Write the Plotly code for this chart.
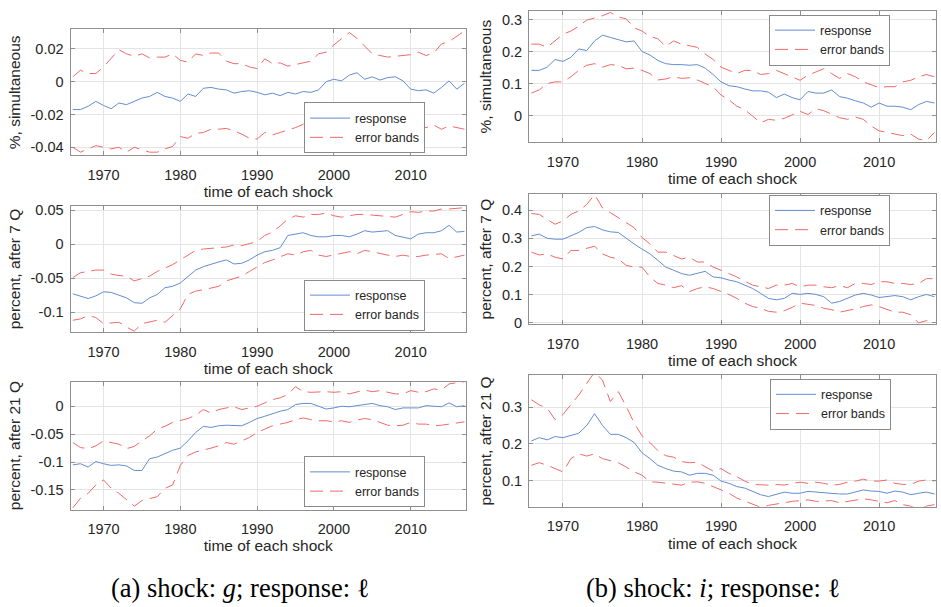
import plotly.graph_objects as go

years = list(range(1966, 2018))

xtick_vals = [1970, 1980, 1990, 2000, 2010]
xtick_text = ["1970", "1980", "1990", "2000", "2010"]

# ---- (a) shock g, response l ----
a1_resp = [-0.017, -0.017, -0.015, -0.012, -0.0145, -0.0165, -0.013, -0.014, -0.012, -0.010,
           -0.009, -0.0065, -0.009, -0.010, -0.012, -0.0075, -0.009, -0.004, -0.0035, -0.0045,
           -0.005, -0.007, -0.006, -0.0055, -0.0065, -0.008, -0.007, -0.0085, -0.0065, -0.0075,
           -0.006, -0.0065, -0.005, 0.000, 0.0015, 0.0005, 0.004, 0.0055, 0.0015, 0.003,
           0.001, 0.0025, 0.003, 0.0005, -0.0045, -0.0055, -0.005, -0.007, -0.0035, 0.0005,
           -0.0045, -0.001]
a1_up = [0.003, 0.007, 0.005, 0.005, 0.009, 0.0145, 0.0195, 0.017, 0.0155, 0.017,
         0.0145, 0.015, 0.015, 0.017, 0.013, 0.012, 0.017, 0.016, 0.0175, 0.0175,
         0.0125, 0.011, 0.011, 0.009, 0.008, 0.014, 0.011, 0.0115, 0.0095, 0.0105,
         0.0115, 0.0125, 0.017, 0.018, 0.0225, 0.026, 0.030, 0.0265, 0.022, 0.017,
         0.016, 0.015, 0.0155, 0.016, 0.0165, 0.018, 0.016, 0.0175, 0.023, 0.0245,
         0.028, 0.031]
a1_lo = [-0.040, -0.043, -0.041, -0.039, -0.040, -0.041, -0.040, -0.043, -0.040, -0.0415,
         -0.043, -0.043, -0.041, -0.0395, -0.0335, -0.0345, -0.0315, -0.031, -0.029, -0.029,
         -0.0285, -0.030, -0.032, -0.0345, -0.035, -0.031, -0.0325, -0.031, -0.0295, -0.028,
         -0.026, -0.022, -0.018, -0.014, -0.016, -0.020, -0.019, -0.016, -0.019, -0.021,
         -0.023, -0.024, -0.024, -0.025, -0.027, -0.0275, -0.028, -0.0265, -0.029, -0.027,
         -0.028, -0.029]

a2_resp = [-0.073, -0.076, -0.080, -0.076, -0.070, -0.071, -0.075, -0.079, -0.086, -0.087,
           -0.079, -0.074, -0.064, -0.062, -0.057, -0.047, -0.038, -0.033, -0.029, -0.026,
           -0.023, -0.029, -0.028, -0.023, -0.016, -0.011, -0.009, -0.005, 0.013, 0.015,
           0.017, 0.013, 0.011, 0.011, 0.013, 0.013, 0.011, 0.015, 0.020, 0.018,
           0.019, 0.020, 0.013, 0.011, 0.008, 0.015, 0.017, 0.017, 0.020, 0.028,
           0.018, 0.019]
a2_up = [-0.049, -0.042, -0.040, -0.038, -0.038, -0.044, -0.046, -0.047, -0.054, -0.050,
         -0.047, -0.040, -0.035, -0.030, -0.023, -0.016, -0.009, -0.007, -0.006, -0.005,
         -0.004, -0.001, -0.002, 0.001, 0.004, 0.013, 0.018, 0.027, 0.037, 0.042,
         0.040, 0.044, 0.044, 0.046, 0.042, 0.040, 0.042, 0.044, 0.044, 0.043,
         0.041, 0.040, 0.040, 0.044, 0.048, 0.047, 0.049, 0.049, 0.052, 0.052,
         0.053, 0.054]
a2_lo = [-0.112, -0.110, -0.105, -0.108, -0.117, -0.116, -0.115, -0.122, -0.128, -0.117,
         -0.115, -0.112, -0.115, -0.105, -0.095, -0.074, -0.069, -0.067, -0.064, -0.062,
         -0.054, -0.050, -0.047, -0.040, -0.033, -0.027, -0.023, -0.018, -0.014, -0.016,
         -0.011, -0.009, -0.016, -0.018, -0.016, -0.014, -0.011, -0.014, -0.009, -0.011,
         -0.014, -0.016, -0.018, -0.016, -0.018, -0.018, -0.016, -0.015, -0.014, -0.021,
         -0.018, -0.016]

a3_resp = [-0.105, -0.103, -0.109, -0.099, -0.103, -0.106, -0.105, -0.107, -0.115, -0.115,
           -0.094, -0.091, -0.085, -0.079, -0.075, -0.062, -0.047, -0.036, -0.038, -0.035,
           -0.034, -0.035, -0.035, -0.029, -0.022, -0.018, -0.013, -0.009, -0.006, 0.003,
           0.005, 0.005, 0.000, -0.005, -0.003, 0.000, -0.001, 0.001, 0.003, 0.005,
           0.001, -0.001, -0.006, -0.003, -0.003, -0.003, 0.001, 0.000, -0.001, 0.006,
           -0.001, 0.001]
a3_up = [-0.065, -0.074, -0.076, -0.071, -0.062, -0.065, -0.068, -0.076, -0.072, -0.062,
         -0.053, -0.041, -0.036, -0.029, -0.025, -0.022, -0.016, -0.006, -0.012, -0.006,
         -0.003, -0.001, -0.006, -0.003, 0.000, 0.006, 0.012, 0.015, 0.021, 0.035,
         0.026, 0.025, 0.026, 0.026, 0.025, 0.026, 0.022, 0.026, 0.029, 0.026,
         0.028, 0.025, 0.022, 0.022, 0.028, 0.025, 0.026, 0.031, 0.029, 0.040,
         0.042, 0.044]
a3_lo = [-0.182, -0.165, -0.156, -0.141, -0.132, -0.147, -0.156, -0.168, -0.179, -0.169,
         -0.165, -0.162, -0.147, -0.141, -0.106, -0.088, -0.082, -0.079, -0.075, -0.071,
         -0.065, -0.068, -0.062, -0.056, -0.047, -0.041, -0.035, -0.032, -0.029, -0.024,
         -0.021, -0.024, -0.026, -0.026, -0.028, -0.026, -0.029, -0.025, -0.022, -0.024,
         -0.029, -0.034, -0.035, -0.034, -0.029, -0.032, -0.032, -0.035, -0.034, -0.032,
         -0.031, -0.028]

# ---- (b) shock i, response l ----
b1_resp = [0.141, 0.141, 0.151, 0.175, 0.169, 0.182, 0.208, 0.203, 0.233, 0.251,
           0.244, 0.236, 0.230, 0.233, 0.200, 0.189, 0.172, 0.162, 0.159, 0.159,
           0.157, 0.159, 0.148, 0.128, 0.105, 0.093, 0.090, 0.083, 0.077, 0.077,
           0.073, 0.056, 0.067, 0.056, 0.049, 0.075, 0.070, 0.070, 0.080, 0.059,
           0.054, 0.046, 0.039, 0.026, 0.039, 0.029, 0.029, 0.026, 0.018, 0.034,
           0.044, 0.039]
b1_up = [0.223, 0.223, 0.213, 0.233, 0.254, 0.264, 0.279, 0.298, 0.305, 0.312,
         0.322, 0.308, 0.302, 0.274, 0.264, 0.247, 0.240, 0.216, 0.233, 0.223,
         0.218, 0.213, 0.192, 0.175, 0.151, 0.141, 0.131, 0.141, 0.141, 0.128,
         0.131, 0.141, 0.131, 0.121, 0.110, 0.126, 0.136, 0.146, 0.131, 0.116,
         0.131, 0.121, 0.105, 0.095, 0.087, 0.090, 0.090, 0.105, 0.110, 0.121,
         0.128, 0.121]
b1_lo = [0.070, 0.080, 0.100, 0.105, 0.105, 0.121, 0.141, 0.157, 0.162, 0.151,
         0.159, 0.157, 0.146, 0.148, 0.141, 0.131, 0.111, 0.114, 0.121, 0.116,
         0.118, 0.111, 0.100, 0.090, 0.064, 0.049, 0.029, 0.018, -0.002, -0.023,
         -0.012, -0.015, -0.009, 0.003, 0.013, 0.003, 0.021, 0.015, 0.003, -0.007,
         -0.012, -0.005, -0.012, -0.033, -0.048, -0.053, -0.058, -0.063, -0.058, -0.074,
         -0.079, -0.053]

b2_resp = [0.309, 0.315, 0.300, 0.297, 0.297, 0.309, 0.321, 0.338, 0.342, 0.330,
           0.323, 0.321, 0.300, 0.280, 0.262, 0.245, 0.222, 0.198, 0.187, 0.175,
           0.169, 0.175, 0.183, 0.163, 0.160, 0.152, 0.146, 0.134, 0.122, 0.105,
           0.087, 0.082, 0.087, 0.105, 0.101, 0.105, 0.101, 0.093, 0.070, 0.076,
           0.087, 0.099, 0.105, 0.099, 0.090, 0.093, 0.097, 0.093, 0.082, 0.093,
           0.101, 0.093]
b2_up = [0.388, 0.385, 0.367, 0.350, 0.362, 0.385, 0.397, 0.420, 0.455, 0.408,
         0.391, 0.373, 0.356, 0.338, 0.303, 0.280, 0.251, 0.251, 0.239, 0.227,
         0.233, 0.216, 0.216, 0.198, 0.187, 0.175, 0.163, 0.148, 0.134, 0.128,
         0.122, 0.134, 0.134, 0.140, 0.128, 0.134, 0.134, 0.128, 0.125, 0.132,
         0.125, 0.140, 0.140, 0.136, 0.146, 0.146, 0.140, 0.140, 0.136, 0.140,
         0.157, 0.157]
b2_lo = [0.251, 0.241, 0.245, 0.233, 0.227, 0.257, 0.257, 0.265, 0.272, 0.245,
         0.233, 0.227, 0.204, 0.198, 0.198, 0.163, 0.140, 0.134, 0.125, 0.132,
         0.111, 0.122, 0.128, 0.122, 0.111, 0.101, 0.087, 0.070, 0.058, 0.052,
         0.041, 0.038, 0.043, 0.055, 0.070, 0.066, 0.062, 0.052, 0.047, 0.038,
         0.043, 0.050, 0.058, 0.064, 0.058, 0.047, 0.038, 0.038, 0.029, 0.000,
         0.008, 0.006]

b3_resp = [0.208, 0.217, 0.211, 0.220, 0.217, 0.224, 0.229, 0.250, 0.282, 0.250,
           0.226, 0.226, 0.217, 0.204, 0.176, 0.160, 0.142, 0.133, 0.126, 0.124,
           0.115, 0.120, 0.120, 0.115, 0.099, 0.093, 0.084, 0.080, 0.071, 0.062,
           0.057, 0.062, 0.069, 0.066, 0.066, 0.071, 0.069, 0.069, 0.066, 0.064,
           0.064, 0.069, 0.075, 0.072, 0.071, 0.066, 0.072, 0.069, 0.062, 0.066,
           0.069, 0.064]
b3_up = [0.320, 0.306, 0.297, 0.266, 0.280, 0.306, 0.333, 0.364, 0.395, 0.373,
         0.315, 0.342, 0.302, 0.257, 0.222, 0.204, 0.182, 0.168, 0.164, 0.152,
         0.149, 0.150, 0.137, 0.126, 0.133, 0.120, 0.111, 0.099, 0.090, 0.088,
         0.088, 0.090, 0.088, 0.093, 0.096, 0.093, 0.096, 0.093, 0.088, 0.090,
         0.096, 0.099, 0.104, 0.099, 0.099, 0.102, 0.093, 0.090, 0.090, 0.099,
         0.102, 0.099]
b3_lo = [0.142, 0.149, 0.142, 0.133, 0.124, 0.160, 0.173, 0.167, 0.173, 0.160,
         0.155, 0.149, 0.137, 0.124, 0.115, 0.097, 0.096, 0.093, 0.090, 0.088,
         0.096, 0.097, 0.093, 0.084, 0.075, 0.066, 0.053, 0.044, 0.035, 0.028,
         0.033, 0.037, 0.040, 0.044, 0.046, 0.048, 0.044, 0.046, 0.046, 0.040,
         0.044, 0.048, 0.051, 0.048, 0.044, 0.040, 0.046, 0.035, 0.031, 0.022,
         0.031, 0.035]

y_titles = ["%, simultaneous", "percent, after 7 Q", "percent, after 21 Q"]
x_title = "time of each shock"
legend_names = ["response", "error bands"]
captions = ["(a) shock: <i>g</i>; response: \u2113", "(b) shock: <i>i</i>; response: \u2113"]

ytick_a1 = ([-0.04, -0.02, 0, 0.02], ["-0.04", "-0.02", "0", "0.02"])
ytick_a2 = ([-0.1, -0.05, 0, 0.05], ["-0.1", "-0.05", "0", "0.05"])
ytick_a3 = ([-0.15, -0.1, -0.05, 0], ["-0.15", "-0.1", "-0.05", "0"])
ytick_b1 = ([0, 0.1, 0.2, 0.3], ["0", "0.1", "0.2", "0.3"])
ytick_b2 = ([0, 0.1, 0.2, 0.3, 0.4], ["0", "0.1", "0.2", "0.3", "0.4"])
ytick_b3 = ([0.1, 0.2, 0.3], ["0.1", "0.2", "0.3"])

# ---- layout geometry (pixels in a 941x607 canvas) ----
W, H = 941, 607
def fx(p): return p / W
def fy(p): return 1 - p / H

panels = [
    # resp, up, lo, ytitle, yrange, yticks, x-px, y-px, legend (x px, y px, anchor)
    (a1_resp, a1_up, a1_lo, y_titles[0], [-0.045, 0.032], ytick_a1, (70.5, 466), (26.7, 155), (304, 153, "bottom")),
    (b1_resp, b1_up, b1_lo, y_titles[0], [-0.084, 0.327], ytick_b1, (529, 936), (8, 141.7), (769, 11.7, "top")),
    (a2_resp, a2_up, a2_lo, y_titles[1], [-0.13, 0.057], ytick_a2, (70.5, 466), (206, 335), (304, 333, "bottom")),
    (b2_resp, b2_up, b2_lo, y_titles[1], [-0.005, 0.458], ytick_b2, (529, 936), (194, 326.7), (769, 195, "top")),
    (a3_resp, a3_up, a3_lo, y_titles[2], [-0.185, 0.044], ytick_a3, (70.5, 466), (385, 515), (304, 512.7, "bottom")),
    (b3_resp, b3_up, b3_lo, y_titles[2], [0.029, 0.387], ytick_b3, (529, 936), (378.3, 512.3), (770, 382, "top")),
]

BLUE = "rgb(100,140,208)"
RED = "rgb(240,105,105)"
AXC = "#8f8f8f"
TXT = "#262626"
FONT = "Liberation Sans, Arial, Helvetica, sans-serif"

fig = go.Figure()
layout = dict(
    width=W, height=H,
    margin=dict(l=0, r=0, t=0, b=0),
    paper_bgcolor="white", plot_bgcolor="white",
    font=dict(family=FONT, color=TXT, size=14),
    showlegend=True,
)

for i, (resp, up, lo, ytitle, yr, yt, xpx, ypx, lpx) in enumerate(panels):
    n = i + 1
    xa = "x" if n == 1 else f"x{n}"
    ya = "y" if n == 1 else f"y{n}"
    lg = "legend" if n == 1 else f"legend{n}"
    fig.add_trace(go.Scatter(x=years, y=resp, mode="lines", name=legend_names[0],
                             line=dict(color=BLUE, width=1), xaxis=xa, yaxis=ya, legend=lg))
    fig.add_trace(go.Scatter(x=years, y=up, mode="lines", name=legend_names[1],
                             line=dict(color=RED, width=1, dash="13px,7px"),
                             xaxis=xa, yaxis=ya, legend=lg))
    fig.add_trace(go.Scatter(x=years, y=lo, mode="lines", name=legend_names[1], showlegend=False,
                             line=dict(color=RED, width=1, dash="13px,7px"),
                             xaxis=xa, yaxis=ya, legend=lg))
    axcommon = dict(showline=True, linecolor=AXC, linewidth=1, mirror="ticks",
                    ticks="inside", ticklen=4, tickcolor=AXC, showgrid=True,
                    gridcolor="#e4e4e4", gridwidth=1, zeroline=False,
                    tickfont=dict(size=14.5, color=TXT, family=FONT))
    xkey = "xaxis" if n == 1 else f"xaxis{n}"
    ykey = "yaxis" if n == 1 else f"yaxis{n}"
    layout[xkey] = dict(axcommon, domain=[fx(xpx[0]), fx(xpx[1])], range=[1965.7, 2017.2],
                        anchor=ya, tickvals=xtick_vals, ticktext=xtick_text,
                        ticklabelstandoff=6,
                        title=dict(text=x_title, font=dict(size=15.5, color=TXT, family=FONT), standoff=4))
    layout[ykey] = dict(axcommon, domain=[fy(ypx[1]), fy(ypx[0])], range=yr,
                        anchor=xa, tickvals=yt[0], ticktext=yt[1],
                        ticklabelstandoff=3,
                        title=dict(text=ytitle, font=dict(size=15.5, color=TXT, family=FONT), standoff=6))
    layout[lg] = dict(x=fx(lpx[0]), y=fy(lpx[1]), xanchor="left", yanchor=lpx[2],
                      bgcolor="white", bordercolor="#8a8a8a", borderwidth=1,
                      font=dict(size=12.5, color=TXT, family=FONT),
                      tracegroupgap=0, itemwidth=40)

fig.update_layout(**layout)

for txt, cx in zip(captions, [240, 713]):
    fig.add_annotation(text=txt, x=fx(cx), y=fy(595), xref="paper", yref="paper",
                       xanchor="center", yanchor="middle", showarrow=False,
                       font=dict(family="Liberation Serif, DejaVu Serif, serif", size=26.5, color="black"))

fig.write_html("out.html")
